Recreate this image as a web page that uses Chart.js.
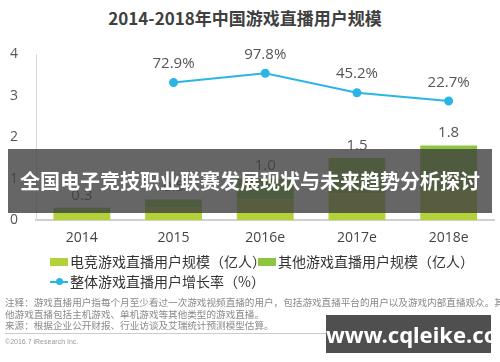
<!DOCTYPE html>
<html>
<head>
<meta charset="utf-8">
<script src="https://cdn.jsdelivr.net/npm/chart.js@4"></script>
<style>
body{margin:0;width:500px;height:362px;background:#fff;position:relative;overflow:hidden;font-family:"Noto Sans CJK SC",sans-serif}
#title{position:absolute;left:0;top:5px;width:490px;text-align:center;font-size:17px;font-weight:bold;color:#404040}
#wrap{position:absolute;left:0;top:0;width:500px;height:255px}
.leg{position:absolute;font-size:14px;color:#333;line-height:16px;white-space:nowrap}
.box{display:inline-block;width:18px;height:8px;vertical-align:middle;margin-right:2px;position:relative;top:-1px}
.ln{display:inline-block;width:18px;height:2px;background:#2bb5e6;vertical-align:middle;margin-right:2px;position:relative;top:-1px}
.ln:after{content:"";position:absolute;left:6px;top:-3px;width:7px;height:7px;border-radius:50%;background:#2bb5e6}
#notes{position:absolute;left:5px;top:297px;font-size:9.6px;line-height:11.5px;color:#8a8a8a;width:495px;white-space:nowrap}
#rule{position:absolute;left:5px;top:333px;width:486px;height:1px;background:#ccc}
#copy{position:absolute;left:5px;top:338px;font-size:7px;color:#999;font-family:"Liberation Sans",sans-serif}
#site{position:absolute;right:8px;top:338px;font-size:7px;color:#999;font-family:"Liberation Sans",sans-serif}
#banner{position:absolute;left:8px;top:149px;width:484px;height:64px;background:rgba(64,64,64,0.8);color:#fff;font-size:20px;font-weight:bold;line-height:64px;text-align:center;white-space:nowrap}
#mark{position:absolute;left:326px;top:315px;width:165px;height:38px;background:rgba(70,70,70,0.95);color:#fff;font-family:"Noto Sans",sans-serif;font-weight:bold;font-size:22px;line-height:38px;text-align:center}
</style>
</head>
<body>
<div id="title">2014-2018年中国游戏直播用户规模</div>
<div id="wrap"><canvas id="myChart"></canvas></div>
<div class="leg" style="left:50px;top:253px"><span class="box" style="background:#b3d23a"></span>电竞游戏直播用户规模（亿人）</div>
<div class="leg" style="left:258px;top:253px"><span class="box" style="background:#8cc63f"></span>其他游戏直播用户规模（亿人）</div>
<div class="leg" style="left:50px;top:273px"><span class="ln"></span>整体游戏直播用户增长率（%）</div>
<div id="notes">注释：游戏直播用户指每个月至少看过一次游戏视频直播的用户，包括游戏直播平台的用户以及游戏内部直播观众。其<br>他游戏直播包括主机游戏、单机游戏等其他类型的游戏直播。<br>来源：根据企业公开财报、行业访谈及艾瑞统计预测模型估算。</div>
<div id="rule"></div>
<div id="copy">©2016.7 iResearch Inc.</div>
<div id="site">www.iresearch.com.cn</div>
<div id="banner">全国电子竞技职业联赛发展现状与未来趋势分析探讨</div>
<div id="mark">www.cqleike.com</div>
<script>
var years = ["2014", "2015", "2016e", "2017e", "2018e"];
var esports = [0.2, 0.3, 0.5, 0.65, 0.75];
var others = [0.1, 0.2, 0.5, 0.85, 1.05];
var growth = [null, 72.9, 97.8, 45.2, 22.7];
var yTicks = [0, 1, 2, 3, 4];

var totals = esports.map(function (v, i) { return v + others[i]; });

var valueLabels = {
	id: "valueLabels",
	afterDatasetsDraw: function (chart) {
		var ctx = chart.ctx;
		ctx.save();
		ctx.font = '15px "Open Sans", sans-serif';
		ctx.fillStyle = "#555";
		ctx.textAlign = "center";
		ctx.textBaseline = "bottom";
		chart.getDatasetMeta(1).data.forEach(function (bar, i) {
			ctx.fillText(totals[i].toFixed(1), bar.x, bar.y - 5);
		});
		chart.getDatasetMeta(2).data.forEach(function (pt, i) {
			if (growth[i] == null) return;
			ctx.fillText(growth[i].toFixed(1) + "%", pt.x, pt.y - 11);
		});
		ctx.restore();
	}
};

var ctx = document.getElementById("myChart").getContext("2d");
var myChart = new Chart(ctx, {
	type: "bar",
	data: {
		labels: years,
		datasets: [
			{
				label: "电竞游戏直播用户规模（亿人）",
				data: esports,
				backgroundColor: "#b3d23a",
				stack: "s",
				yAxisID: "y",
				barPercentage: 0.62,
				categoryPercentage: 1
			},
			{
				label: "其他游戏直播用户规模（亿人）",
				data: others,
				backgroundColor: "#8cc63f",
				stack: "s",
				yAxisID: "y",
				barPercentage: 0.62,
				categoryPercentage: 1
			},
			{
				type: "line",
				label: "整体游戏直播用户增长率（%）",
				data: growth,
				borderColor: "#2bb5e6",
				backgroundColor: "#2bb5e6",
				borderWidth: 2,
				pointRadius: 3.5,
				pointHoverRadius: 3.5,
				yAxisID: "y1",
				clip: false
			}
		]
	},
	options: {
		responsive: true,
		maintainAspectRatio: false,
		animation: false,
		layout: { padding: { top: 54, right: 4, bottom: 0, left: 0 } },
		plugins: {
			legend: { display: false },
			tooltip: { enabled: false }
		},
		scales: {
			x: {
				stacked: true,
				grid: { display: false, drawTicks: false },
				border: { display: true, color: "#d0d0d0", width: 2 },
				ticks: { color: "#444", font: { size: 14, family: "Open Sans" }, padding: 9 }
			},
			y: {
				stacked: true,
				min: 0,
				max: 4,
				grid: { display: false, drawTicks: false },
				border: { display: true, color: "#d9d9d9", width: 1 },
				afterBuildTicks: function (axis) {
					axis.ticks = yTicks.map(function (v) { return { value: v }; });
				},
				afterFit: function (axis) {
					axis.width = 36;
				},
				ticks: { color: "#555", font: { size: 14, family: "Open Sans" }, padding: 18 }
			},
			y1: {
				display: false,
				min: -300,
				max: 150
			}
		}
	},
	plugins: [valueLabels]
});
</script>
</body>
</html>
